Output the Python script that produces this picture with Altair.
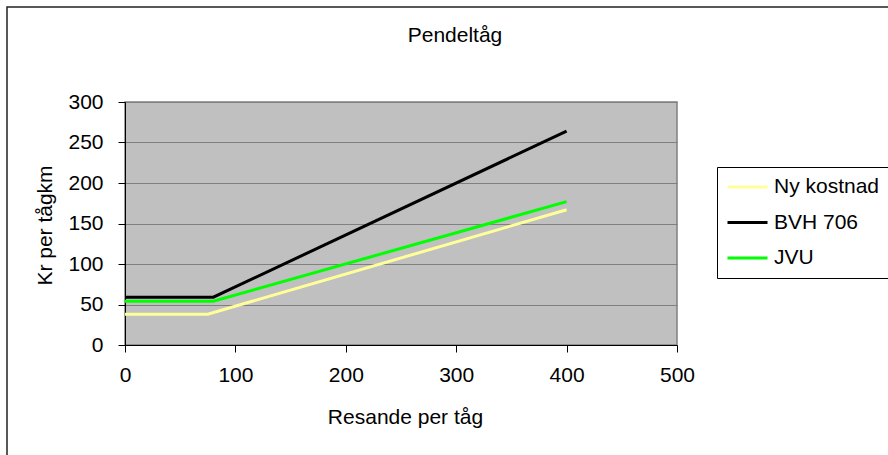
import altair as alt
import pandas as pd

# Data
series_names = ["Ny kostnad", "BVH 706", "JVU"]
x_ny = [0, 75, 400]
y_ny = [38, 38, 167]
x_bvh = [0, 80, 400]
y_bvh = [59, 59, 264]
x_jvu = [0, 80, 400]
y_jvu = [54, 54, 177]
colors = ["#FFFF99", "#000000", "#00FF00"]
chart_title = "Pendeltåg"

rows = []
for name, xs, ys in zip(series_names, [x_ny, x_bvh, x_jvu], [y_ny, y_bvh, y_jvu]):
    for i, (xv, yv) in enumerate(zip(xs, ys)):
        rows.append({"serie": name, "x": xv, "y": yv, "order": i})
df = pd.DataFrame(rows)

FONT = "Liberation Sans"
FS = 21

lines = alt.Chart(df).mark_line(strokeWidth=3).encode(
    x=alt.X("x:Q", scale=alt.Scale(domain=[0, 500], nice=False),
            axis=alt.Axis(title="Resande per tåg", values=[0, 100, 200, 300, 400, 500],
                          grid=False, domainColor="black", tickColor="black", tickSize=7,
                          labelFontSize=FS, titleFontSize=FS, titleFontWeight="normal",
                          labelFlush=False, labelOverlap=False,
                          labelPadding=12, titleX=280, titleY=78, titleBaseline="alphabetic",
                          titleAlign="center", labelColor="black", titleColor="black")),
    y=alt.Y("y:Q", scale=alt.Scale(domain=[0, 300], nice=False),
            axis=alt.Axis(title="Kr per tågkm", values=[0, 50, 100, 150, 200, 250, 300],
                          grid=True, gridColor="#808080", domainColor="black", tickColor="black",
                          tickSize=7, labelFontSize=FS, titleFontSize=FS, titleFontWeight="normal",
                          labelFlush=False, labelOverlap=False,
                          labelPadding=15, titleX=-80, titleY=123, titleBaseline="middle",
                          titleAlign="center", labelColor="black", titleColor="black")),
    color=alt.Color("serie:N", scale=alt.Scale(domain=series_names, range=colors),
                    sort=series_names,
                    legend=alt.Legend(title=None, orient="none", legendX=592, legendY=65,
                                      symbolType="stroke", symbolSize=1600, symbolStrokeWidth=3,
                                      labelFontSize=FS, labelColor="black", labelOffset=5,
                                      clipHeight=22, rowPadding=13.5, padding=9,
                                      strokeColor="black", fillColor="white", cornerRadius=0)),
    order="order:O",
)

frame = alt.Chart(pd.DataFrame({"a": [0]})).mark_rect(
    fill=None, stroke="#222222", strokeWidth=1.5
).encode(
    x=alt.value(-118), x2=alt.value(800), y=alt.value(-95), y2=alt.value(400)
)

title = alt.Chart(pd.DataFrame({"t": [chart_title]})).mark_text(
    fontSize=FS, color="black", align="center", baseline="alphabetic"
).encode(
    text="t:N", x=alt.value(330), y=alt.value(-60)
)

chart = alt.layer(frame, lines, title).properties(
    width=552, height=243,
    padding={"left": 125, "top": 102, "right": 211, "bottom": 110},
    autosize=alt.AutoSizeParams(type="none"),
).configure(font=FONT).configure_view(
    fill="#C0C0C0", stroke="#808080", strokeWidth=1.5
)

chart.save("out.html", embed_options={"renderer": "svg", "actions": False})
